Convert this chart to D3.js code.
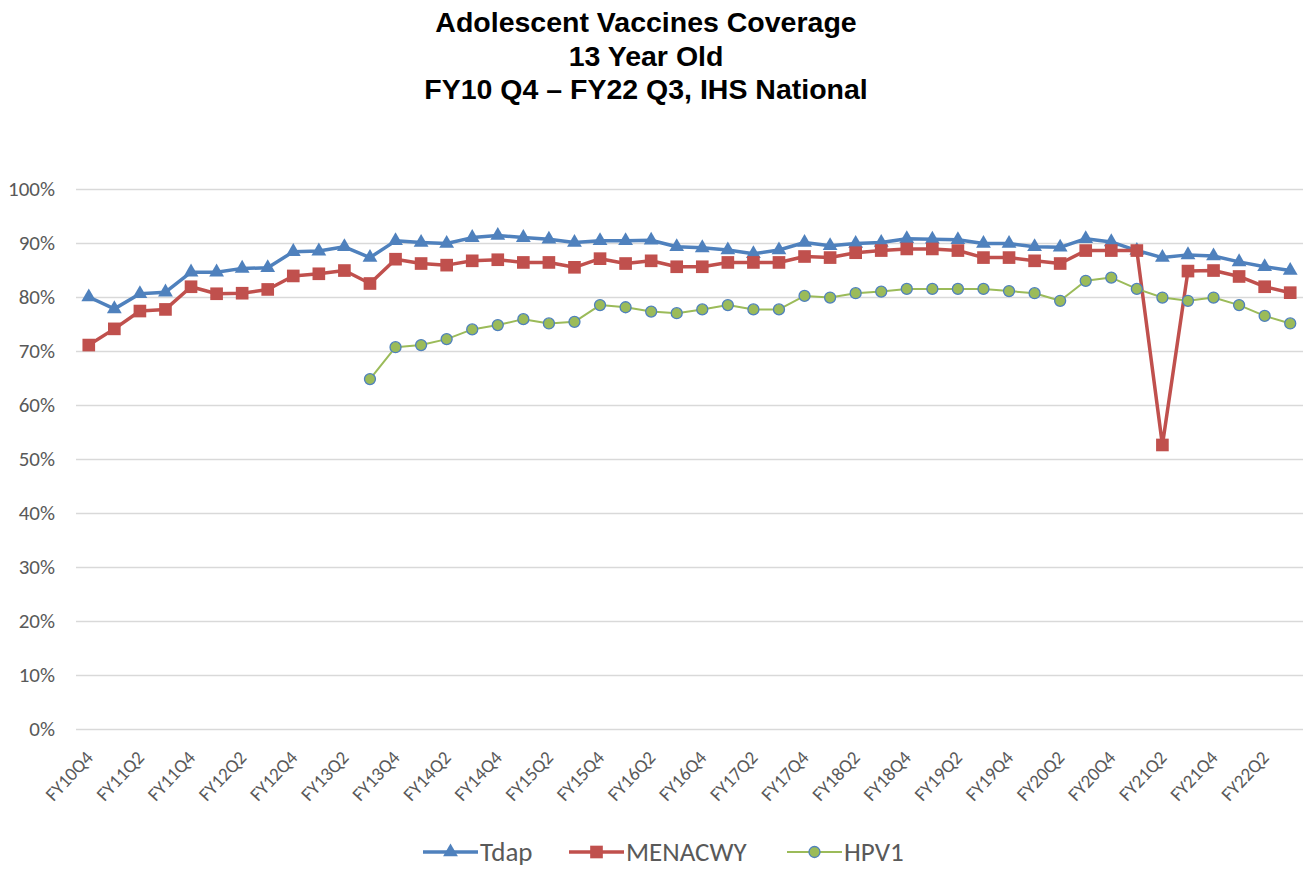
<!DOCTYPE html>
<html>
<head>
<meta charset="utf-8">
<script src="https://cdn.jsdelivr.net/npm/d3@7"></script>
<style>
  html, body { margin: 0; padding: 0; background: #fff; }
  svg { display: block; }
</style>
</head>
<body>
<svg id="chart" width="1305" height="873"></svg>
<script>
const titleLines = ["Adolescent Vaccines Coverage", "13 Year Old", "FY10 Q4 \u2013 FY22 Q3, IHS National"];

const quarters = [
  "FY10Q4",
  "FY11Q1","FY11Q2","FY11Q3","FY11Q4",
  "FY12Q1","FY12Q2","FY12Q3","FY12Q4",
  "FY13Q1","FY13Q2","FY13Q3","FY13Q4",
  "FY14Q1","FY14Q2","FY14Q3","FY14Q4",
  "FY15Q1","FY15Q2","FY15Q3","FY15Q4",
  "FY16Q1","FY16Q2","FY16Q3","FY16Q4",
  "FY17Q1","FY17Q2","FY17Q3","FY17Q4",
  "FY18Q1","FY18Q2","FY18Q3","FY18Q4",
  "FY19Q1","FY19Q2","FY19Q3","FY19Q4",
  "FY20Q1","FY20Q2","FY20Q3","FY20Q4",
  "FY21Q1","FY21Q2","FY21Q3","FY21Q4",
  "FY22Q1","FY22Q2","FY22Q3"
];

const tickLabels = ["FY10Q4","FY11Q2","FY11Q4","FY12Q2","FY12Q4","FY13Q2","FY13Q4","FY14Q2","FY14Q4",
  "FY15Q2","FY15Q4","FY16Q2","FY16Q4","FY17Q2","FY17Q4","FY18Q2","FY18Q4","FY19Q2","FY19Q4",
  "FY20Q2","FY20Q4","FY21Q2","FY21Q4","FY22Q2"];

const yTicks = [0, 0.1, 0.2, 0.3, 0.4, 0.5, 0.6, 0.7, 0.8, 0.9, 1.0];

const tdap = [80.0,77.8,80.6,80.9,84.6,84.6,85.3,85.4,88.4,88.5,89.3,87.3,90.4,90.1,
  89.9,91.0,91.4,91.0,90.7,90.1,90.4,90.4,90.5,89.3,89.1,88.7,88.0,88.7,90.1,89.5,89.9,
  90.1,90.8,90.7,90.6,89.9,89.9,89.3,89.2,90.8,90.2,88.6,87.3,87.8,87.6,86.5,85.6,84.9];

const menacwy = [71.1,74.1,77.4,77.7,81.9,80.6,80.7,81.4,83.9,84.3,84.9,82.5,87.0,86.2,
  85.9,86.7,86.9,86.4,86.4,85.5,87.1,86.2,86.7,85.6,85.6,86.4,86.4,86.4,87.5,87.3,88.2,
  88.6,88.9,88.9,88.6,87.3,87.3,86.7,86.2,88.6,88.6,88.6,52.6,84.8,84.9,83.8,81.9,80.8];

const hpv1 = [null,null,null,null,null,null,null,null,null,null,null,
  64.8,70.7,71.1,
  72.2,74.0,74.8,75.9,75.1,75.4,78.5,78.1,77.3,77.0,77.7,78.5,77.7,77.7,80.2,79.9,80.7,
  81.0,81.5,81.5,81.5,81.5,81.1,80.7,79.3,83.0,83.6,81.5,79.9,79.3,79.9,78.5,76.5,75.1];

const seriesNames = ["Tdap", "MENACWY", "HPV1"];

// ---------- styling / layout ----------
const W = 1305, H = 873;
const plot = { left: 76, right: 1303, top: 189, bottom: 729 };
const textFont = "Carlito, Calibri, Lato, 'Open Sans', sans-serif";
const styles = {
  Tdap:    { color: "#4F81BD", width: 3.5, symbol: d3.symbolTriangle, size: 95, fill: "#4F81BD", stroke: "#4F81BD", sw: 0 },
  MENACWY: { color: "#C0504D", width: 3.5, symbol: d3.symbolSquare,   size: 160, fill: "#C0504D", stroke: "#C0504D", sw: 0 },
  HPV1:    { color: "#9BBB59", width: 2,   symbol: d3.symbolCircle,   size: 95,  fill: "#9BBB59", stroke: "#4F81BD", sw: 1.3 }
};

const svg = d3.select("#chart");

const x = d3.scalePoint().domain(quarters).range([plot.left, plot.right]).padding(0.5);
const y = d3.scaleLinear().domain([0, 1]).range([plot.bottom, plot.top]);

// title
const titleX = 646;
const title = svg.append("text")
  .attr("x", titleX).attr("y", 32)
  .attr("text-anchor", "middle")
  .attr("font-family", "'Liberation Sans', Arial, sans-serif")
  .attr("font-weight", "bold")
  .attr("font-size", 28.5)
  .attr("fill", "#000");
titleLines.forEach((t, i) => {
  title.append("tspan").attr("x", titleX).attr("y", 32 + i * 33.5).text(t);
});

// gridlines + y axis labels
const yAxis = d3.axisLeft(y)
  .tickValues(yTicks)
  .tickFormat(d3.format(".0%"))
  .tickSize(-(plot.right - plot.left))
  .tickPadding(21);
const gy = svg.append("g").attr("transform", `translate(${plot.left},0)`).call(yAxis);
gy.select(".domain").remove();
gy.selectAll(".tick line").attr("stroke", "#D9D9D9").attr("stroke-width", 1.5);
gy.selectAll(".tick text")
  .attr("font-family", textFont)
  .attr("font-size", 21)
  .attr("fill", "#595959");

// x axis labels
const xAxis = d3.axisBottom(x).tickValues(tickLabels).tickSize(0).tickPadding(0);
const gx = svg.append("g").attr("transform", `translate(0,${plot.bottom})`).call(xAxis);
gx.select(".domain").remove();
gx.selectAll(".tick text")
  .attr("font-family", textFont)
  .attr("font-size", 19)
  .attr("fill", "#595959")
  .attr("text-anchor", "end")
  .attr("dy", "0.35em")
  .attr("transform", "translate(0,25) rotate(-47)");

// lines + markers
const seriesData = { Tdap: tdap, MENACWY: menacwy, HPV1: hpv1 };
seriesNames.forEach(name => {
  const st = styles[name];
  const pts = quarters.map((q, i) => ({ q, v: seriesData[name][i] }));
  const line = d3.line()
    .defined(d => d.v != null)
    .x(d => x(d.q))
    .y(d => y(d.v / 100));
  svg.append("path")
    .datum(pts)
    .attr("fill", "none")
    .attr("stroke", st.color)
    .attr("stroke-width", st.width)
    .attr("stroke-linejoin", "round")
    .attr("d", line);
  svg.append("g").selectAll("path")
    .data(pts.filter(d => d.v != null))
    .join("path")
    .attr("transform", d => `translate(${x(d.q)},${y(d.v / 100)})`)
    .attr("d", d3.symbol().type(st.symbol).size(st.size))
    .attr("fill", st.fill)
    .attr("stroke", st.stroke)
    .attr("stroke-width", st.sw);
});

// legend
const legendX = [423, 569, 787];
const legendY = 852;
seriesNames.forEach((name, i) => {
  const st = styles[name];
  const g = svg.append("g").attr("transform", `translate(${legendX[i]},${legendY})`);
  g.append("line").attr("x1", 0).attr("x2", 55).attr("y1", 0).attr("y2", 0)
    .attr("stroke", st.color).attr("stroke-width", st.width);
  g.append("path").attr("transform", "translate(27.5,0)")
    .attr("d", d3.symbol().type(st.symbol).size(st.size))
    .attr("fill", st.fill).attr("stroke", st.stroke).attr("stroke-width", st.sw);
  g.append("text").attr("x", 57).attr("y", 0).attr("dy", "0.35em")
    .attr("font-family", textFont).attr("font-size", 27).attr("fill", "#595959")
    .text(name);
});
</script>
</body>
</html>
